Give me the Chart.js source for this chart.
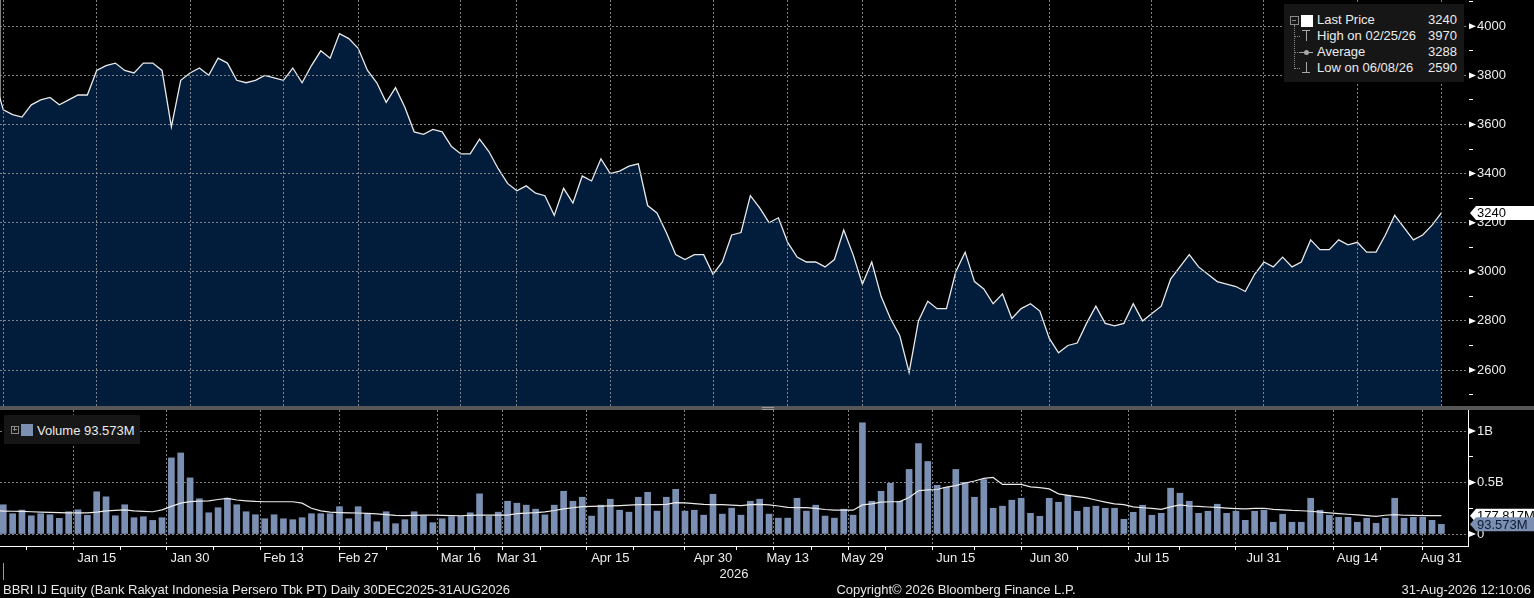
<!DOCTYPE html>
<html>
<head>
<meta charset="utf-8">
<script src="https://cdn.jsdelivr.net/npm/chart.js@4.4.1/dist/chart.umd.min.js"></script>
<style>
html, body { margin: 0; padding: 0; background: #000; }
body { width: 1534px; height: 598px; position: relative; overflow: hidden;
       font-family: "Liberation Sans", Arial, sans-serif; color: #ececec; }
#priceBox { position: absolute; left: 0; top: 0; width: 1534px; height: 406px; }
#volBox { position: absolute; left: 0; top: 410px; width: 1534px; height: 188px; }
.sep { position: absolute; left: 0; top: 406px; width: 1534px; height: 4px; background: #575757; }
.handle { position: absolute; left: 762px; top: 407px; width: 12px; height: 1px;
          border-top: 1px solid #9a9a9a; border-bottom: 1px solid #9a9a9a; }
.leg { position: absolute; background: #161616; }
.txt { position: absolute; font-size: 13px; line-height: 16px; white-space: nowrap; }
.val { position: absolute; font-size: 13px; line-height: 16px; text-align: right; width: 60px; }
.ico { position: absolute; }
.foot { position: absolute; top: 582px; font-size: 13px; line-height: 15px; white-space: nowrap; color: #e6e6e6; }
</style>
</head>
<body>
<div id="priceBox"><canvas id="priceChart"></canvas></div>
<div class="sep"></div>
<div class="handle"></div>
<div id="volBox"><canvas id="volChart"></canvas></div>

<div class="leg" style="left:1284px;top:4px;width:180px;height:78px;"></div>
<div class="ico" style="left:1290px;top:16px;width:7px;height:7px;border:1px solid #8a8a8a;"></div>
<div class="ico" style="left:1292px;top:20px;width:4px;height:1px;background:#8a8a8a;"></div>
<div class="ico" style="left:1294px;top:25px;width:0;height:44px;border-left:1px dotted #8a8a8a;"></div>
<div class="ico" style="left:1294px;top:36px;width:6px;height:0;border-top:1px dotted #8a8a8a;"></div>
<div class="ico" style="left:1294px;top:52px;width:6px;height:0;border-top:1px dotted #8a8a8a;"></div>
<div class="ico" style="left:1294px;top:68px;width:6px;height:0;border-top:1px dotted #8a8a8a;"></div>
<div class="ico" style="left:1301px;top:15px;width:12px;height:12px;background:#ffffff;"></div>
<div class="ico" style="left:1302px;top:30px;width:8px;height:1px;background:#a8a8a8;"></div>
<div class="ico" style="left:1306px;top:30px;width:1px;height:11px;background:#a8a8a8;"></div>
<div class="ico" style="left:1300px;top:52px;width:13px;height:1px;background:#a8a8a8;"></div>
<div class="ico" style="left:1304px;top:50px;width:5px;height:5px;border-radius:3px;background:#a8a8a8;"></div>
<div class="ico" style="left:1306px;top:62px;width:1px;height:11px;background:#a8a8a8;"></div>
<div class="ico" style="left:1302px;top:72px;width:8px;height:1px;background:#a8a8a8;"></div>
<div class="txt" style="left:1317px;top:12px;">Last Price</div>
<div class="txt" style="left:1317px;top:28px;">High on 02/25/26</div>
<div class="txt" style="left:1317px;top:44px;">Average</div>
<div class="txt" style="left:1317px;top:60px;">Low on 06/08/26</div>
<div class="val" id="lv0" style="left:1397px;top:12px;"></div>
<div class="val" id="lv1" style="left:1397px;top:28px;"></div>
<div class="val" id="lv2" style="left:1397px;top:44px;"></div>
<div class="val" id="lv3" style="left:1397px;top:60px;"></div>

<div class="leg" style="left:4px;top:415px;width:136px;height:29px;"></div>
<div class="ico" style="left:11px;top:426px;width:6px;height:6px;border:1px solid #8a8a8a;"></div>
<div class="ico" style="left:13px;top:429px;width:4px;height:1px;background:#8a8a8a;"></div>
<div class="ico" style="left:14px;top:427px;width:1px;height:4px;background:#8a8a8a;"></div>
<div class="ico" style="left:21px;top:424px;width:12px;height:12px;background:#7b8fb2;"></div>
<div class="txt" id="volLegend" style="left:37px;top:423px;"></div>

<div class="foot" style="left:3px;">BBRI IJ Equity (Bank Rakyat Indonesia Persero Tbk PT) Daily 30DEC2025-31AUG2026</div>
<div class="foot" style="left:956px;transform:translateX(-50%);">Copyright© 2026 Bloomberg Finance L.P.</div>
<div class="foot" style="right:3px;">31-Aug-2026 12:10:06</div>

<script>
// trading-day series, first entry is 29 Dec 2025 (index -1), then 30 Dec 2025 ... 31 Aug 2026
const firstIndex = -1;
const closePrice = [
    3790, 3660, 3640, 3630, 3680, 3700, 3710, 3680, 3700, 3720, 3720,
    3820, 3840, 3850, 3820, 3810, 3850, 3850, 3820, 3590, 3780,
    3810, 3830, 3800, 3870, 3850, 3780, 3770, 3780, 3800, 3790,
    3780, 3830, 3770, 3840, 3900, 3870, 3970, 3950, 3910, 3820,
    3770, 3690, 3750, 3670, 3570, 3560, 3580, 3570, 3510, 3480,
    3480, 3540, 3490, 3420, 3360, 3330, 3350, 3320, 3310, 3230,
    3340, 3280, 3390, 3370, 3460, 3400, 3410, 3430, 3440, 3270,
    3240, 3160, 3070, 3050, 3070, 3070, 2990, 3040, 3150, 3160,
    3310, 3260, 3200, 3220, 3120, 3060, 3040, 3040, 3020, 3050,
    3170, 3070, 2950, 3040, 2900, 2810, 2740, 2590, 2800, 2880,
    2850, 2850, 3000, 3080, 2960, 2930, 2870, 2910, 2810, 2850,
    2870, 2840, 2730, 2670, 2700, 2710, 2790, 2860, 2790, 2780,
    2790, 2870, 2800, 2830, 2860, 2970, 3020, 3070, 3020, 2990,
    2960, 2950, 2940, 2920, 2990, 3040, 3020, 3060, 3020, 3040,
    3130, 3090, 3090, 3130, 3110, 3120, 3080, 3080, 3150, 3230,
    3180, 3130, 3150, 3190, 3240
];
// volume in millions of shares
const volumeM = [
    250, 284, 197, 232, 177, 197, 187, 152, 216, 235, 181,
    410, 361, 177, 284, 158, 168, 132, 158, 739, 787,
    545, 342, 206, 255, 348, 284, 216, 187, 148, 187,
    148, 139, 158, 197, 197, 197, 265, 148, 265, 197,
    119, 216, 100, 139, 216, 177, 110, 148, 168, 171,
    206, 390, 171, 212, 318, 299, 280, 241, 186, 280,
    415, 318, 357, 174, 280, 338, 231, 212, 357, 405,
    222, 357, 434, 222, 231, 183, 386, 193, 251, 183,
    318, 338, 193, 154, 154, 347, 222, 280, 174, 154,
    241, 183, 1080, 318, 415, 492, 318, 627, 878, 704,
    473, 453, 627, 502, 357, 529, 250, 270, 328, 347,
    201, 172, 347, 308, 377, 221, 260, 270, 250, 250,
    143, 211, 279, 182, 201, 445, 396, 318, 201, 221,
    289, 201, 221, 133, 221, 231, 114, 192, 114, 114,
    347, 231, 182, 162, 162, 114, 153, 104, 153, 347,
    153, 162, 162, 133, 93.573
];
// white average line drawn over the volume bars, millions
const volumeAvgM = [
    225, 223, 221, 219, 216, 213, 210, 207, 206, 206, 206,
    212, 224, 230, 235, 225, 220, 216, 235, 268, 300,
    315, 320, 322, 335, 345, 330, 322, 316, 313, 313,
    313, 313, 300, 250, 225, 212, 208, 205, 204, 200,
    195, 188, 180, 178, 180, 183, 184, 180, 178, 177,
    180, 183, 184, 183, 183, 198, 203, 207, 215, 228,
    244, 255, 266, 268, 270, 273, 276, 280, 285, 286,
    286, 288, 304, 302, 294, 287, 286, 286, 281, 276,
    285, 288, 282, 272, 258, 257, 257, 248, 238, 232,
    231, 231, 283, 293, 310, 313, 315, 355, 420, 428,
    432, 456, 470, 495, 515, 540, 549, 481, 481, 481,
    458, 450, 438, 390, 375, 362, 350, 330, 310, 292,
    285, 263, 255, 248, 240, 263, 282, 272, 268, 262,
    258, 252, 247, 244, 248, 250, 240, 235, 229, 226,
    221, 213, 205, 198, 192, 185, 178, 172, 182, 188,
    182, 180, 179, 178, 177.817
];
const tickIndex = [10, 20, 30, 38, 49, 55, 65, 76, 84, 92, 102, 112, 123, 135, 145, 154];
const tickLabels = ['Jan 15', 'Jan 30', 'Feb 13', 'Feb 27', 'Mar 16', 'Mar 31', 'Apr 15', 'Apr 30',
                    'May 13', 'May 29', 'Jun 15', 'Jun 30', 'Jul 15', 'Jul 31', 'Aug 14', 'Aug 31'];
const minorTickIndex = [5, 15, 25, 34, 44, 52, 60, 70, 81, 89, 97, 106, 118, 129, 140, 150];
const priceTicks = [2500, 2600, 2700, 2800, 2900, 3000, 3100, 3200, 3300, 3400, 3500, 3600, 3700, 3800, 3900, 4000, 4100];
const volumeTicks = [0, 250, 500, 750, 1000];
const legendValues = ['3240', '3970', '3288', '2590'];

const FONT = '"Liberation Sans", Arial, sans-serif';
const GRID = 'rgba(150,150,150,0.85)';
const xMin = -0.353, xMax = 156.85;
const RIGHT_AXIS = 66;

legendValues.forEach((v, i) => { document.getElementById('lv' + i).textContent = v });
document.getElementById('volLegend').textContent = 'Volume ' + volumeM[volumeM.length - 1].toFixed(3) + 'M';

const toPoints = arr => arr.map((v, i) => ({ x: i + firstIndex, y: v }));

function setXTicks(scale) {
    const all = [0].concat(tickIndex, minorTickIndex).sort((a, b) => a - b);
    scale.ticks = all.map(v => ({ value: v }));
}
function isMajorX(v) { return v === 0 || tickIndex.indexOf(v) >= 0 }
function noPad(scale) {
    scale.paddingTop = 0;
    scale.paddingBottom = 0;
    scale.paddingLeft = 0;
    scale.paddingRight = 0;
}

// marks on the right axis and the last value tags
const axisMarks = {
    id: 'axisMarks',
    afterDraw(chart, args, opts) {
        const y = chart.scales.y;
        const ctx = chart.ctx;
        ctx.save();
        ctx.fillStyle = '#ffffff';
        y.ticks.forEach(t => {
            if (t.value % opts.major !== 0) return;
            const py = y.getPixelForValue(t.value);
            ctx.beginPath();
            ctx.moveTo(y.left + 1, py - 3);
            ctx.lineTo(y.left + 8, py);
            ctx.lineTo(y.left + 1, py + 3);
            ctx.closePath();
            ctx.fill();
        });
        ctx.font = '13px ' + FONT;
        ctx.textBaseline = 'middle';
        (opts.tags || []).forEach(tag => {
            const py = y.getPixelForValue(tag.value);
            const x0 = y.left + 2;
            ctx.fillStyle = tag.bg;
            ctx.beginPath();
            ctx.moveTo(x0, py);
            ctx.lineTo(x0 + 6, py - 7);
            ctx.lineTo(chart.width, py - 7);
            ctx.lineTo(chart.width, py + 7);
            ctx.lineTo(x0 + 6, py + 7);
            ctx.closePath();
            ctx.fill();
            ctx.fillStyle = tag.color;
            ctx.fillText(tag.text, x0 + 7, py + 1);
        });
        if (opts.year) {
            const x = chart.scales.x;
            const px = Math.round(x.getPixelForValue(0)) + 0.5;
            ctx.strokeStyle = '#9a9a9a';
            ctx.lineWidth = 1;
            ctx.beginPath();
            ctx.moveTo(px, chart.chartArea.bottom + 17);
            ctx.lineTo(px, chart.chartArea.bottom + 34);
            ctx.stroke();
            ctx.fillStyle = '#ececec';
            ctx.textAlign = 'center';
            ctx.fillText(opts.year, (chart.chartArea.left + chart.chartArea.right) / 2, chart.chartArea.bottom + 28);
        }
        ctx.restore();
    }
};

Chart.defaults.font.family = FONT;
Chart.defaults.font.size = 13;
Chart.defaults.color = '#ececec';

const lastPrice = closePrice[closePrice.length - 1];
const priceChart = new Chart('priceChart', {
    type: 'line',
    data: {
        datasets: [{
            data: toPoints(closePrice),
            borderColor: '#e9e9e9',
            borderWidth: 1.3,
            backgroundColor: '#021d3c',
            fill: 'start',
            pointRadius: 0,
            tension: 0
        }]
    },
    options: {
        responsive: true,
        maintainAspectRatio: false,
        animation: false,
        layout: { padding: 0 },
        plugins: {
            legend: { display: false },
            tooltip: { enabled: false },
            axisMarks: { major: 200, tags: [{ value: lastPrice, text: String(lastPrice), bg: '#ffffff', color: '#000000' }] }
        },
        scales: {
            x: {
                type: 'linear',
                min: xMin,
                max: xMax,
                afterBuildTicks: setXTicks,
                afterFit: s => { s.height = 0; noPad(s) },
                ticks: { display: false },
                border: { display: false, dash: [2, 2] },
                grid: {
                    z: 1,
                    drawTicks: false,
                    color: c => (c.tick && isMajorX(c.tick.value)) ? GRID : 'transparent'
                }
            },
            y: {
                position: 'right',
                min: 2453.5,
                max: 4107,
                afterBuildTicks: s => { s.ticks = priceTicks.map(v => ({ value: v })) },
                afterFit: s => { s.width = RIGHT_AXIS; noPad(s) },
                ticks: {
                    padding: 4,
                    autoSkip: false,
                    callback: v => (v % 200 === 0 ? String(v) : '')
                },
                border: { display: true, color: '#ffffff', width: 1, dash: [2, 2] },
                grid: {
                    z: 1,
                    tickLength: 5,
                    color: c => (c.tick && c.tick.value % 200 === 0) ? GRID : 'transparent',
                    tickColor: c => (c.tick && c.tick.value % 200 === 0) ? 'transparent' : '#ffffff'
                }
            }
        }
    },
    plugins: [axisMarks]
});

const lastVol = volumeM[volumeM.length - 1];
const lastAvg = volumeAvgM[volumeAvgM.length - 1];
const volChart = new Chart('volChart', {
    data: {
        datasets: [{
            type: 'bar',
            data: toPoints(volumeM),
            backgroundColor: '#7b8fb2',
            borderWidth: 0,
            barThickness: 6,
            order: 2
        }, {
            type: 'line',
            data: toPoints(volumeAvgM),
            borderColor: '#e9e9e9',
            borderWidth: 1.2,
            pointRadius: 0,
            tension: 0,
            fill: false,
            order: 1
        }]
    },
    options: {
        responsive: true,
        maintainAspectRatio: false,
        animation: false,
        layout: { padding: 0 },
        plugins: {
            legend: { display: false },
            tooltip: { enabled: false },
            axisMarks: {
                major: 500,
                year: '2026',
                tags: [
                    { value: lastAvg, text: lastAvg.toFixed(3) + 'M', bg: '#ffffff', color: '#000000' },
                    { value: lastVol, text: lastVol.toFixed(3) + 'M', bg: '#7b8fb2', color: '#0d1c33' }
                ]
            }
        },
        scales: {
            x: {
                type: 'linear',
                min: xMin,
                max: xMax,
                offset: false,
                afterBuildTicks: setXTicks,
                afterFit: s => { s.height = 52; noPad(s) },
                ticks: {
                    autoSkip: false,
                    maxRotation: 0,
                    minRotation: 0,
                    padding: 1,
                    callback: v => { const k = tickIndex.indexOf(v); return k >= 0 ? tickLabels[k] : '' }
                },
                border: { display: true, color: '#ffffff', width: 1, dash: [2, 2] },
                grid: {
                    tickLength: 4,
                    color: c => (c.tick && isMajorX(c.tick.value)) ? GRID : 'transparent',
                    tickColor: c => (c.tick && c.tick.value !== 0) ? '#ffffff' : 'transparent'
                }
            },
            y: {
                position: 'right',
                min: -116.5,
                max: 1204,
                afterBuildTicks: s => { s.ticks = volumeTicks.map(v => ({ value: v })) },
                afterFit: s => { s.width = RIGHT_AXIS; noPad(s) },
                ticks: {
                    padding: 4,
                    autoSkip: false,
                    callback: v => (v === 0 ? '0' : v % 500 === 0 ? (v / 1000) + 'B' : '')
                },
                border: { display: true, color: '#ffffff', width: 1, dash: [2, 2] },
                grid: {
                    tickLength: 5,
                    color: c => (c.tick && c.tick.value % 500 === 0) ? GRID : 'transparent',
                    tickColor: c => (c.tick && c.tick.value % 500 === 0) ? 'transparent' : '#ffffff'
                }
            }
        }
    },
    plugins: [axisMarks]
});
</script>
</body>
</html>
